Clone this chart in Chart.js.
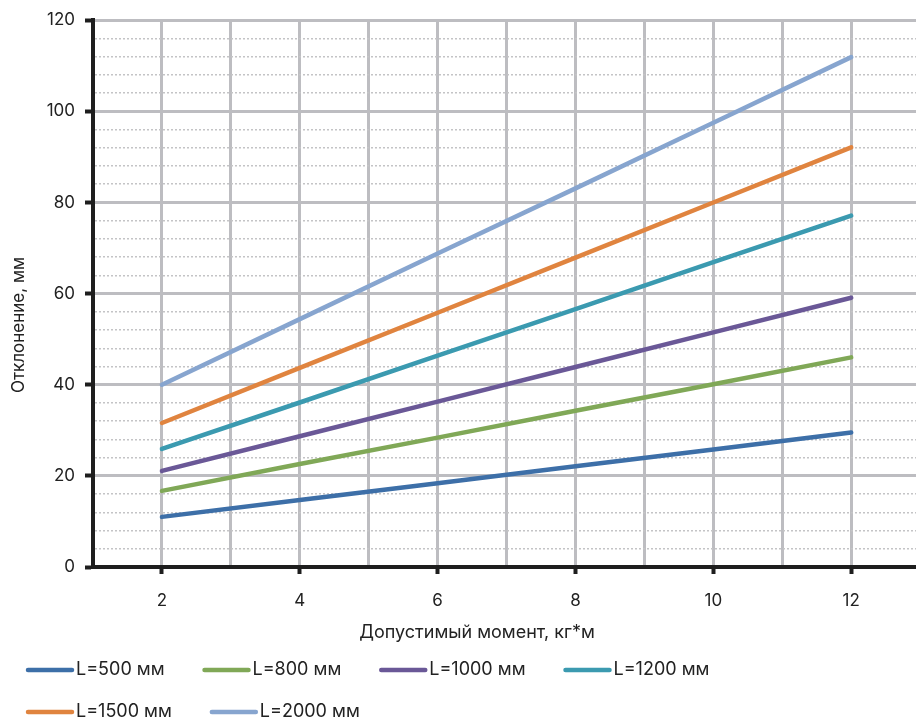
<!DOCTYPE html>
<html>
<head>
<meta charset="utf-8">
<script src="https://cdn.jsdelivr.net/npm/chart.js@4.4.0/dist/chart.umd.min.js"></script>
<style>
  html, body { margin: 0; padding: 0; background: #fff; overflow: hidden; }
  #wrap { width: 916px; height: 722px; position: relative; }
</style>
</head>
<body>
<div id="wrap"><canvas id="lineChart"></canvas></div>
<script>
// moment, kg*m
const moments = [2, 4, 6, 8, 10, 12];
const seriesNames = ['L=500 мм', 'L=800 мм', 'L=1000 мм', 'L=1200 мм', 'L=1500 мм', 'L=2000 мм'];
// deviation, mm
const dev500 = [11.0, 14.7, 18.4, 22.1, 25.8, 29.5];
const dev800 = [16.7, 22.6, 28.4, 34.3, 40.1, 46.0];
const dev1000 = [21.1, 28.7, 36.3, 43.9, 51.5, 59.1];
const dev1200 = [25.9, 36.1, 46.4, 56.6, 66.9, 77.1];
const dev1500 = [31.6, 43.7, 55.8, 67.9, 80.0, 92.1];
const dev2000 = [40.0, 54.4, 68.8, 83.1, 97.5, 111.9];
const yTickLabels = [0, 20, 40, 60, 80, 100, 120];
const xTickLabels = [2, 4, 6, 8, 10, 12];

const colors = ['#3d6fa8', '#80a857', '#6a5897', '#3b9ab0', '#e0843f', '#87a5cf'];
const allSeries = [dev500, dev800, dev1000, dev1200, dev1500, dev2000];
const fontName = 'Inter, "Noto Sans", sans-serif';

// legend + axis titles drawn on the canvas
const legendRows = [[0, 1, 2, 3], [4, 5]];
const extras = {
    id: 'extras',
    afterDraw(chart) {
        const ctx = chart.ctx;
        ctx.save();
        ctx.fillStyle = '#222';
        ctx.textBaseline = 'middle';

        ctx.font = '18px ' + fontName;
        ctx.textAlign = 'center';
        ctx.fillText('Допустимый момент, кг*м', 477, 633);

        ctx.save();
        ctx.translate(19, 325);
        ctx.rotate(-Math.PI / 2);
        ctx.font = '17px ' + fontName;
        ctx.fillText('Отклонение, мм', 0, 0);
        ctx.restore();

        ctx.textAlign = 'left';
        ctx.font = '18px ' + fontName;
        ctx.lineCap = 'round';
        ctx.lineWidth = 4.5;
        legendRows.forEach(function (row, r) {
            let x = 28;
            const y = 670 + r * 42;
            row.forEach(function (i) {
                const ds = chart.data.datasets[i];
                ctx.strokeStyle = ds.borderColor;
                ctx.beginPath();
                ctx.moveTo(x, y);
                ctx.lineTo(x + 44, y);
                ctx.stroke();
                ctx.fillStyle = '#222';
                ctx.fillText(ds.label, x + 48, y);
                x += 48 + ctx.measureText(ds.label).width + 40;
            });
        });
        ctx.restore();
    }
};

const ctx = document.getElementById('lineChart').getContext('2d');
new Chart(ctx, {
    type: 'line',
    data: {
        datasets: allSeries.map(function (vals, i) {
            return {
                label: seriesNames[i],
                data: vals.map(function (v, j) { return { x: moments[j], y: v }; }),
                borderColor: colors[i],
                backgroundColor: colors[i],
                borderWidth: 4.5,
                borderCapStyle: 'round',
                pointRadius: 0,
                tension: 0
            };
        })
    },
    options: {
        responsive: true,
        maintainAspectRatio: false,
        animation: false,
        layout: { padding: { left: 0, top: 16, right: 0, bottom: 100 } },
        plugins: {
            legend: { display: false },
            tooltip: { enabled: false }
        },
        scales: {
            x: {
                type: 'linear',
                min: 1,
                max: 12.94,
                afterBuildTicks: function (axis) {
                    const t = [];
                    for (let v = 1; v <= 12; v++) t.push({ value: v });
                    axis.ticks = t;
                },
                afterFit: function (axis) { axis.height = 55; },
                ticks: {
                    autoSkip: false,
                    maxRotation: 0,
                    padding: 17,
                    color: '#222',
                    font: { family: fontName, size: 17 },
                    callback: function (v) { return xTickLabels.includes(v) ? String(v) : ''; }
                },
                grid: {
                    color: function (c) { return c.tick && c.tick.value === 1 ? 'rgba(0,0,0,0)' : '#bdbdc1'; },
                    lineWidth: 3,
                    tickLength: 7,
                    tickWidth: 4,
                    tickColor: function (c) { return c.tick && xTickLabels.includes(c.tick.value) ? '#1e1e1e' : 'rgba(0,0,0,0)'; }
                },
                border: { color: '#1e1e1e', width: 4 }
            },
            y: {
                min: 0,
                max: 120,
                afterFit: function (axis) { axis.width = 93; },
                ticks: {
                    stepSize: 4,
                    autoSkip: false,
                    padding: 10,
                    color: '#222',
                    font: { family: fontName, size: 17 },
                    callback: function (v) { return yTickLabels.includes(v) ? String(v) : ''; }
                },
                grid: {
                    color: function (c) {
                        if (!c.tick) return '#bdbdc1';
                        return c.tick.value % 20 === 0 ? '#bdbdc1' : '#c4c4c6';
                    },
                    lineWidth: function (c) { return c.tick && c.tick.value % 20 === 0 ? 3 : 1.5; },
                    tickLength: 8,
                    tickWidth: 4,
                    tickColor: function (c) { return c.tick && c.tick.value % 20 === 0 ? '#1e1e1e' : 'rgba(0,0,0,0)'; }
                },
                border: {
                    color: '#1e1e1e',
                    width: 4,
                    dash: function (c) { return c.tick && c.tick.value % 20 !== 0 ? [2, 2] : []; }
                }
            }
        }
    },
    plugins: [extras]
});
</script>
</body>
</html>
